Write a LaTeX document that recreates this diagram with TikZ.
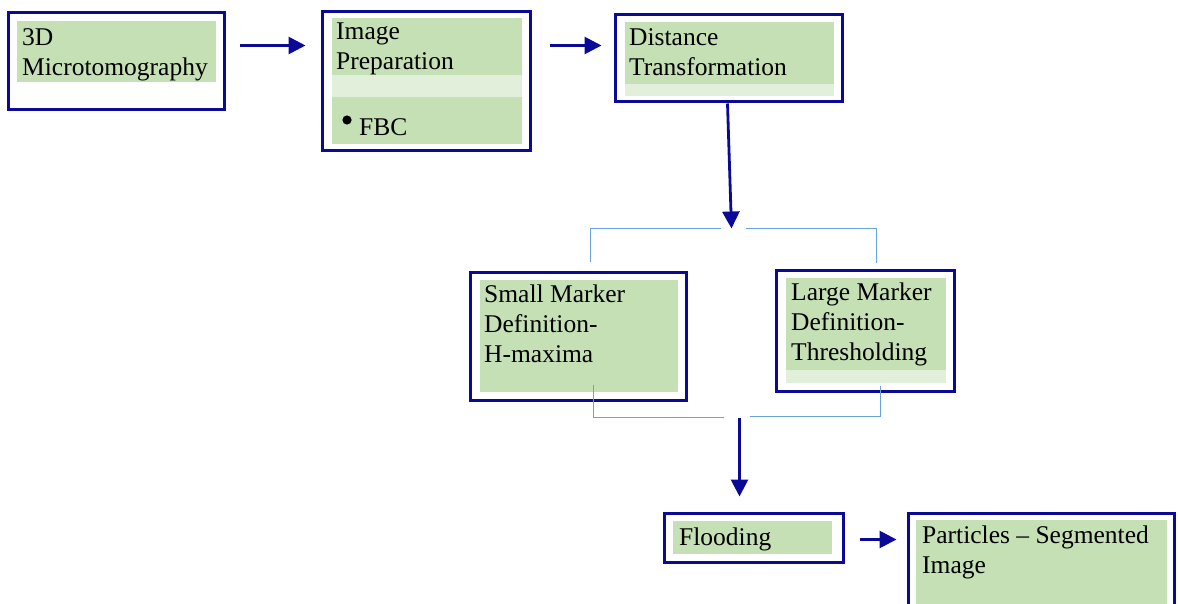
\documentclass[tikz,border=0pt]{standalone}
\usepackage{fontspec}
\setmainfont{Liberation Serif}
\usetikzlibrary{arrows.meta,fit,calc}
\definecolor{navy}{HTML}{0A0A96}
\definecolor{lgreen}{HTML}{C5E0B4}
\definecolor{pgreen}{HTML}{E2EFDA}
\definecolor{lblue}{HTML}{69A3DA}
\tikzset{
  frame/.style={draw=navy, line width=3pt, inner sep=0pt},
  txt/.style={anchor=base west, inner sep=0pt, align=left, font=\fontsize{25.5}{30}\selectfont},
  arr/.style={draw=navy, line width=2.8pt, -{Triangle[length=17pt,width=17pt]}},
  brk/.style={draw=lblue, line width=1.6pt},
}
\begin{document}
\begin{tikzpicture}[x=1pt,y=-1pt]
\useasboundingbox (0,0) rectangle (1178,604);
\clip (0,0) rectangle (1178,604);
\fill[white] (0,0) rectangle (1178,604);
% fills
\fill[lgreen] (17,21) rectangle (216,82);
\fill[lgreen] (332,18) rectangle (522,75);
\fill[pgreen] (332,75) rectangle (522,97);
\fill[lgreen] (332,97) rectangle (522,144);
\fill[lgreen] (625,22) rectangle (834,84);
\fill[pgreen] (625,84) rectangle (834,96);
\fill[lgreen] (480,280) rectangle (678,392);
\fill[lgreen] (786,278) rectangle (946,370);
\fill[pgreen] (786,370) rectangle (946,383);
\fill[lgreen] (673,521) rectangle (832,554);
\fill[lgreen] (916,520) rectangle (1167,620);
% frames
\node[frame, fit={(8,13) (224,110)}] (b1) {};
\node[frame, fit={(322,12) (530,151)}] (b2) {};
\node[frame, fit={(615,15) (842,102)}] (b3) {};
\node[frame, fit={(470,272) (686,400)}] (b4) {};
\node[frame, fit={(776,270) (954,391)}] (b5) {};
\node[frame, fit={(664,513) (843,562)}] (b6) {};
\node[frame, fit={(908,513) (1174,620)}] (b7) {};
% texts (anchor = baseline of the last line)
\node[txt] (t1) at (22,76) {3D\\Microtomography};
\node[txt] (t2) at (336,70) {Image\\Preparation};
\fill (347,120) circle (4.6);
\node[txt] (t2b) at (359,136) {FBC};
\node[txt] (t3) at (629,76) {Distance\\Transformation};
\node[txt] (t4) at (484,362) {Small Marker\\Definition-\\H-maxima};
\node[txt] (t5) at (791,360) {Large Marker\\Definition-\\Thresholding};
\node[txt] (t6) at (679,545) {Flooding};
\node[txt] (t7) at (922,573) {Particles – Segmented\\Image};
% arrows
\draw[arr] ($(b1.north east)+(14,34)$) -- ($(b2.north west)+(-15,35)$);
\draw[arr] ($(b2.north east)+(18,35)$) -- ($(b3.north west)+(-12,32)$);
\draw[arr] ($(b3.south west)+(114,0)$) -- ($(b3.south west)+(118,125)$) coordinate (split);
\coordinate (join) at ($(b6.north west)+(77,-94)$);
\draw[arr] (join) -- ($(b6.north west)+(77,-15)$);
\draw[arr] ($(b6.east)+(15,2)$) -- ($(b7.west)+(-10,-27)$);
% brackets
\draw[brk] ($(b4.north west)+(122,-9)$) |- ($(split)+(-11,0)$);
\draw[brk] ($(split)+(14,0)$) -| ($(b5.north west)+(102,-6)$);
\draw[brk] ($(b4.south west)+(125,-17)$) |- ($(join)+(-16,0)$);
\draw[brk] ($(join)+(10,-1)$) -| ($(b5.south west)+(106,-7)$);
\end{tikzpicture}
\end{document}
